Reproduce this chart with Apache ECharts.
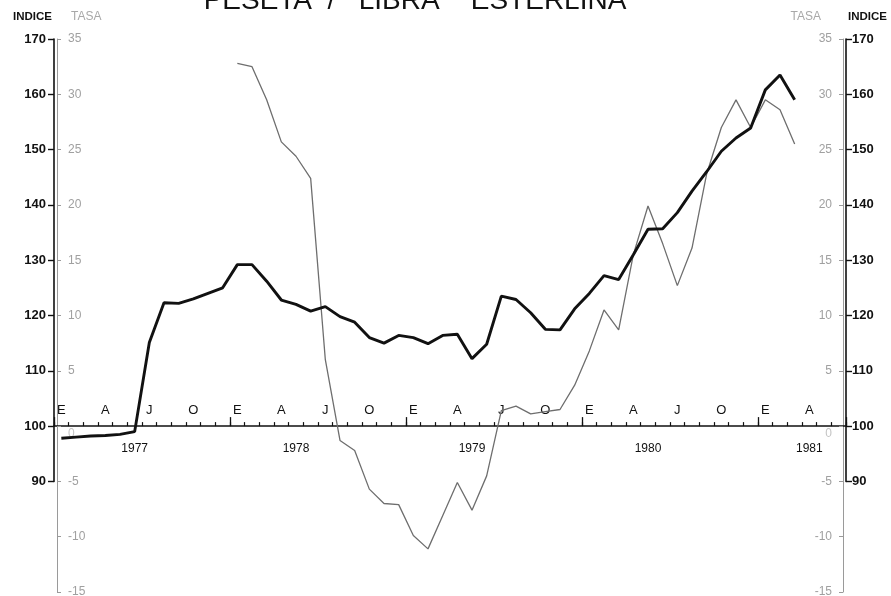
<!DOCTYPE html>
<html><head><meta charset="utf-8">
<script src="https://cdn.jsdelivr.net/npm/echarts@6/dist/echarts.min.js"></script>
<style>html,body{margin:0;padding:0;background:#fff}#chart{width:891px;height:596px}</style>
</head><body><div id="chart"></div>
<script>
// ---- data ----
const chartTitle = 'PESETA  /   LIBRA    ESTERLINA';
const monthInitials = ['E','F','M','A','M','J','J','A','S','O','N','D'];
const startYear = 1977;
const monthCount = 54;
const yearLabels = ['1977','1978','1979','1980','1981'];
const yearLabelMonth = [5, 16, 28, 40, 51];
// Índice (base 100), monthly from Jan 1977
const indexValues = [97.8, 98.0, 98.2, 98.3, 98.5, 99.0, 115.1, 122.3, 122.2, 123.0,
  124.0, 125.0, 129.2, 129.2, 126.2, 122.8, 122.0, 120.8, 121.6, 119.8,
  118.8, 116.0, 115.0, 116.4, 116.0, 114.9, 116.4, 116.6, 112.2, 114.8,
  123.5, 122.9, 120.5, 117.5, 117.4, 121.2, 124.0, 127.2, 126.5, 131.0,
  135.6, 135.7, 138.6, 142.5, 146.0, 149.7, 152.1, 153.9, 160.8, 163.5, 159.0];
// Tasa (%), starts Jan 1978
const tasaStartMonth = 12;
const tasaValues = [32.8, 32.5, 29.5, 25.7, 24.4, 22.4, 6.0, -1.3, -2.2, -5.7,
  -7.0, -7.1, -9.9, -11.1, -8.1, -5.1, -7.6, -4.5, 1.4, 1.8,
  1.1, 1.3, 1.5, 3.7, 6.8, 10.5, 8.7, 15.5, 19.9, 16.5,
  12.7, 16.1, 22.8, 27.0, 29.5, 27.0, 29.5, 28.6, 25.5];
const indexAxisMin = 90, indexAxisMax = 170, indexStep = 10;
const tasaAxisMin = -15, tasaAxisMax = 35, tasaStep = 5;
const indexHiddenMin = 70;

// ---- build ----
const months = [];
for (let i = 0; i < monthCount; i++) months.push((startYear + Math.floor(i / 12)) + '-' + (i % 12 + 1));
const tasaSeries = months.map((m, i) => i < tasaStartMonth ? null : (tasaValues[i - tasaStartMonth] ?? null));
const indexSeries = months.map((m, i) => indexValues[i] ?? null);

const FONT = 'Liberation Sans';
const L = 54, R = 45, T = 39;
const H = 596;
const plotBottom = 592;
const unit = (plotBottom - T) / (indexAxisMax - indexHiddenMin);
const gridA = { left: L, right: R, top: T, bottom: H - plotBottom, outerBoundsMode: 'none' };
const gridB = { left: L, right: R, top: T, bottom: H - (T + (indexAxisMax - indexAxisMin) * unit), outerBoundsMode: 'none' };
const gridC = { left: L, right: R, top: T, bottom: H - (T + (indexAxisMax - 100) * unit), outerBoundsMode: 'none' };

const tasaAxis = (pos) => ({
  type: 'value', gridIndex: 0, position: pos, min: tasaAxisMin, max: tasaAxisMax, interval: tasaStep,
  offset: -3,
  axisLine: { show: true, lineStyle: { color: '#9a9a9a', width: 1 } },
  axisTick: { show: true, inside: true, length: 4, lineStyle: { color: '#9a9a9a' } },
  axisLabel: { inside: true, margin: 11, color: '#a0a0a0', fontSize: 12, fontFamily: FONT,
    showMinLabel: true, showMaxLabel: true,
    formatter: v => v === 0 ? '{z|0}' : String(v),
    rich: { z: { padding: [16, 0, 0, 0], color: '#c4c4c4', fontSize: 12, fontFamily: FONT } } },
  splitLine: { show: false },
  name: 'TASA', nameLocation: 'end', nameGap: 16,
  nameTextStyle: { color: '#a8a8a8', fontSize: 12, fontFamily: FONT,
    align: pos === 'left' ? 'left' : 'right', padding: pos === 'left' ? [0, 0, 0, 14] : [0, 22, 0, 0] }
});
const indexAxis = (pos) => ({
  type: 'value', gridIndex: 1, position: pos, min: indexAxisMin, max: indexAxisMax, interval: indexStep,
  axisLine: { show: true, lineStyle: { color: '#111', width: 1.6 } },
  axisTick: { show: true, inside: false, length: 6, lineStyle: { color: '#111', width: 1.4 } },
  axisLabel: { margin: pos === 'left' ? 8 : 6, color: '#111', fontSize: 13, fontWeight: 'bold', fontFamily: FONT,
    showMinLabel: true, showMaxLabel: true },
  splitLine: { show: false },
  name: 'INDICE', nameLocation: 'end', nameGap: 16,
  nameTextStyle: { color: '#111', fontSize: 11.5, fontWeight: 'bold', fontFamily: FONT,
    align: pos === 'left' ? 'right' : 'left', padding: pos === 'left' ? [0, 2, 0, 0] : [0, 0, 0, 2] }
});

const option = {
  animation: false,
  backgroundColor: '#fff',
  textStyle: { fontFamily: FONT },
  grid: [gridA, gridB, gridC],
  graphic: [{
    type: 'text', x: 415, y: 15, silent: true,
    style: { text: chartTitle, fill: '#111', font: '28px "Liberation Sans"', textAlign: 'center', textVerticalAlign: 'bottom' }
  }],
  xAxis: [
    { type: 'category', gridIndex: 0, data: months, boundaryGap: true, show: false },
    { type: 'category', gridIndex: 1, data: months, boundaryGap: true, show: false },
    { type: 'category', gridIndex: 2, data: months, boundaryGap: true, position: 'bottom',
      axisLine: { show: true, lineStyle: { color: '#111', width: 1.6 } },
      axisTick: { show: true, inside: true, length: 4, interval: 0, lineStyle: { color: '#111', width: 1.2 } },
      axisLabel: { inside: true, interval: 2, margin: 9, color: '#111', fontSize: 13, fontFamily: FONT,
        formatter: (v, i) => monthInitials[i % 12] },
      splitLine: { show: false } },
    { type: 'category', gridIndex: 2, data: months, boundaryGap: true, position: 'bottom',
      axisLine: { show: false },
      axisTick: { show: true, inside: true, length: 9, interval: (i) => i % 12 === 0, lineStyle: { color: '#111', width: 1.3 } },
      axisLabel: { margin: 17, color: '#111', fontSize: 12, fontFamily: FONT,
        interval: (i) => yearLabelMonth.indexOf(i) >= 0,
        formatter: (v, i) => { const k = yearLabelMonth.indexOf(i); return k >= 0 ? yearLabels[k] : ''; } },
      splitLine: { show: false } }
  ],
  yAxis: [
    tasaAxis('left'),
    tasaAxis('right'),
    { type: 'value', gridIndex: 0, min: indexHiddenMin, max: indexAxisMax, show: false, splitLine: { show: false } },
    indexAxis('left'),
    indexAxis('right'),
    { type: 'value', gridIndex: 2, min: 0, max: 1, show: false, splitLine: { show: false } }
  ],
  series: [
    { name: 'Tasa', type: 'line', xAxisIndex: 0, yAxisIndex: 0, data: tasaSeries, showSymbol: false,
      connectNulls: false, lineStyle: { color: '#6e6e6e', width: 1.3 }, z: 3 },
    { name: 'Índice', type: 'line', xAxisIndex: 0, yAxisIndex: 2, data: indexSeries, showSymbol: false,
      lineStyle: { color: '#111', width: 2.9 }, z: 4 }
  ]
};
const chart = echarts.init(document.getElementById('chart'), null, { renderer: 'canvas' });
chart.setOption(option);
</script></body></html>
